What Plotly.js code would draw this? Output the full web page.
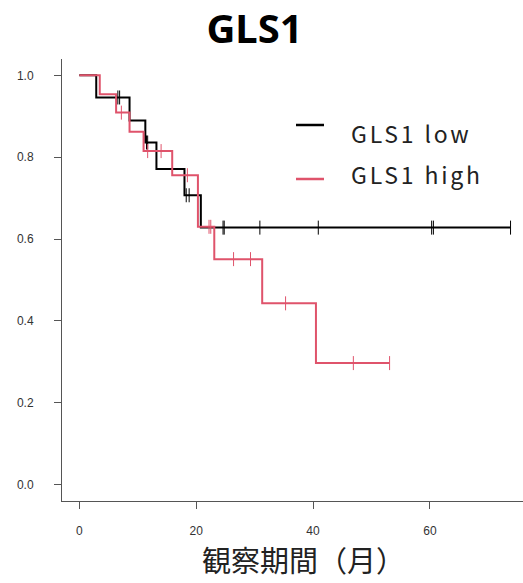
<!DOCTYPE html>
<html>
<head>
<meta charset="utf-8">
<script src="https://cdn.plot.ly/plotly-3.0.1.min.js"></script>
<style>
html,body{margin:0;padding:0;overflow:hidden;background:#fff;}
#chart{width:531px;height:583px;}
.annotation-text{letter-spacing:2.8px;}
.g-xtitle text{transform:translateX(8px);}
</style>
</head>
<body>
<div id="chart"></div>
<script>
// Kaplan-Meier step data
const lowTime = [0, 2.9, 8.6, 11.3, 13.2, 18.0, 20.8, 73.8];
const lowSurv = [1.0, 0.946, 0.890, 0.836, 0.771, 0.707, 0.628, 0.628];
const lowCensorTime = [6.6, 6.9, 11.5, 11.7, 18.3, 18.8, 24.6, 24.8, 30.9, 40.9, 60.3, 60.6, 73.8];

const highTime = [0, 3.5, 6.3, 8.6, 11.0, 15.9, 20.3, 23.1, 31.3, 40.5, 53.1];
const highSurv = [1.0, 0.954, 0.909, 0.862, 0.815, 0.756, 0.630, 0.551, 0.443, 0.297, 0.297];
const highCensorTime = [7.2, 11.7, 14.0, 18.5, 22.2, 22.5, 26.4, 29.3, 35.3, 46.9, 53.1];

const xTicks = [0, 20, 40, 60];
const yTicks = [0.0, 0.2, 0.4, 0.6, 0.8, 1.0];
const groupNames = ["GLS1 low", "GLS1 high"];
const chartTitle = "GLS1";
const xTitle = "観察期間（月）";

function stepAt(times, surv, t) {
  let s = surv[0];
  for (let i = 0; i < times.length; i++) { if (times[i] <= t) s = surv[i]; }
  return s;
}

const black = "#000000";
const red = "#DF536B";
const colors = [black, red];

const traces = [
  {x: lowTime, y: lowSurv, type: "scatter", mode: "lines", line: {shape: "hv", color: black, width: 2},
   name: groupNames[0], showlegend: false},
  {x: highTime, y: highSurv, type: "scatter", mode: "lines", line: {shape: "hv", color: red, width: 2},
   name: groupNames[1], showlegend: false},
  {x: lowCensorTime, y: lowCensorTime.map(t => stepAt(lowTime, lowSurv, t)), type: "scatter", mode: "markers",
   marker: {symbol: "line-ns", size: 10, line: {color: black, width: 1}}, showlegend: false, hoverinfo: "skip"},
  {x: highCensorTime, y: highCensorTime.map(t => stepAt(highTime, highSurv, t)), type: "scatter", mode: "markers",
   marker: {symbol: "line-ns", size: 10, line: {color: red, width: 1}}, showlegend: false, hoverinfo: "skip"}
];

// custom legend (pixel positions converted to paper coordinates)
const plotL = 62, plotW = 467, plotB = 501, plotH = 442;
const px = v => (v - plotL) / plotW;
const py = v => (plotB - v) / plotH;
const legLineY = [125, 179];
const legTextY = [133, 174];
const shapes = groupNames.map((n, i) => ({
  type: "line", xref: "paper", yref: "paper", x0: px(296), x1: px(324), y0: py(legLineY[i]), y1: py(legLineY[i]),
  line: {color: colors[i], width: 2.5}
}));
const annotations = groupNames.map((n, i) => ({
  text: n, xref: "paper", yref: "paper", x: px(349), y: py(legTextY[i]), xanchor: "left", yanchor: "middle",
  showarrow: false, font: {family: "Noto Sans CJK JP, Noto Sans, sans-serif", size: 23, color: "#222"}
}));

const tickFont = {family: "Liberation Sans, Arial, sans-serif", size: 12, color: "#333"};

const layout = {
  width: 531, height: 583,
  margin: {l: 62, r: 2, t: 59, b: 82},
  paper_bgcolor: "#fff", plot_bgcolor: "#fff",
  showlegend: false,
  shapes: shapes,
  annotations: annotations,
  title: {text: "<b>" + chartTitle + "</b>", font: {family: "Noto Sans, sans-serif", size: 40, color: "#000"},
          xref: "container", yref: "container", x: 254.5/531, xanchor: "center", y: 1 - 29/583, yanchor: "middle"},
  xaxis: {range: [-2.96, 76.96], tickvals: xTicks, ticktext: xTicks.map(String), showgrid: false, zeroline: false,
          showline: true, linecolor: "#555", linewidth: 1, ticks: "outside", ticklen: 7, tickcolor: "#555", tickwidth: 1,
          tickfont: tickFont, ticklabelstandoff: 12,
          title: {text: xTitle, font: {family: "Noto Sans CJK JP, sans-serif", size: 29, color: "#222"}, standoff: 10}},
  yaxis: {range: [-0.04, 1.04], tickvals: yTicks, ticktext: yTicks.map(v => v.toFixed(1)), showgrid: false, zeroline: false,
          showline: true, linecolor: "#555", linewidth: 1, ticks: "outside", ticklen: 7, tickcolor: "#555", tickwidth: 1,
          tickfont: tickFont, ticklabelstandoff: 18}
};

Plotly.newPlot("chart", traces, layout, {displayModeBar: false, staticPlot: true});
</script>
</body>
</html>
